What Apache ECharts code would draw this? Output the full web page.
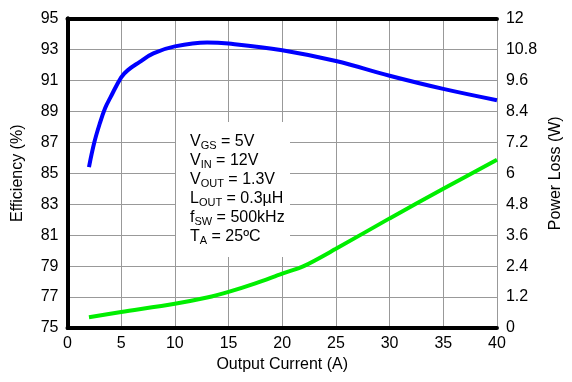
<!DOCTYPE html>
<html>
<head>
<meta charset="utf-8">
<script src="https://cdn.jsdelivr.net/npm/echarts@6/dist/echarts.min.js"></script>
<style>
html,body{margin:0;padding:0;background:#fff;}
#chart{width:572px;height:382px;}
</style>
</head>
<body>
<div id="chart"></div>
<script>
// Data
const effCurrent = [2, 2.5, 3, 3.5, 4, 5, 5.6, 6.7, 8, 10, 13, 15, 20, 25, 30, 35, 40];
const efficiency = [85.4, 87.0, 88.2, 89.2, 89.9, 91.2, 91.65, 92.18, 92.75, 93.2, 93.45, 93.38, 92.95, 92.25, 91.3, 90.45, 89.72];

const lossCurrent = [2, 5, 10, 13, 15, 17.5, 20, 22, 25, 30, 35, 40];
const powerLoss = [0.42, 0.62, 0.94, 1.18, 1.40, 1.73, 2.11, 2.40, 3.07, 4.25, 5.40, 6.52];

const xTicks = [0, 5, 10, 15, 20, 25, 30, 35, 40];
const effTicks = [75, 77, 79, 81, 83, 85, 87, 89, 91, 93, 95];
const lossTicks = [0, 1.2, 2.4, 3.6, 4.8, 6, 7.2, 8.4, 9.6, 10.8, 12];

const conditionLines = [
  ['V', 'GS', ' = 5V'],
  ['V', 'IN', ' = 12V'],
  ['V', 'OUT', ' = 1.3V'],
  ['L', 'OUT', ' = 0.3\u00b5H'],
  ['f', 'SW', ' = 500kHz'],
  ['T', 'A', ' = 25\u00baC']
];

const FONT = '"Liberation Sans", Arial, sans-serif';
const chart = echarts.init(document.getElementById('chart'), null, {renderer: 'canvas'});

function zip(xs, ys) { return xs.map((x, i) => [x, ys[i]]); }

const condText = conditionLines.map(l => l[0] + '{sub|' + l[1] + '}' + l[2]).join('\n');

const option = {
  animation: false,
  backgroundColor: '#fff',
  textStyle: {fontFamily: FONT},
  grid: {left: 67.5, right: 69.5, top: 18.5, bottom: 54},
  xAxis: [{
    type: 'value', min: xTicks[0], max: xTicks[xTicks.length - 1], interval: xTicks[1] - xTicks[0],
    name: 'Output Current (A)', nameLocation: 'middle', nameGap: 29,
    nameTextStyle: {fontSize: 16, color: '#000', fontFamily: FONT},
    axisLine: {show: true, lineStyle: {color: '#000', width: 4}},
    axisTick: {show: false},
    axisLabel: {fontSize: 16, color: '#000', margin: 8, fontFamily: FONT},
    splitLine: {show: true, lineStyle: {color: '#999', width: 1}}
  }, {
    type: 'value', position: 'top', min: 0, max: 40,
    axisLine: {show: true, lineStyle: {color: '#000', width: 4}},
    axisTick: {show: false}, axisLabel: {show: false}, splitLine: {show: false}
  }],
  yAxis: [{
    type: 'value', min: effTicks[0], max: effTicks[effTicks.length - 1], interval: effTicks[1] - effTicks[0],
    name: 'Efficiency (%)', nameLocation: 'middle', nameGap: 42, nameRotate: 90,
    nameTextStyle: {fontSize: 16, color: '#000', fontFamily: FONT},
    axisLine: {show: true, lineStyle: {color: '#000', width: 4}},
    axisTick: {show: false},
    axisLabel: {fontSize: 16, color: '#000', margin: 9, fontFamily: FONT},
    splitLine: {show: true, lineStyle: {color: '#999', width: 1}}
  }, {
    type: 'value', position: 'right', min: lossTicks[0], max: lossTicks[lossTicks.length - 1], interval: lossTicks[1] - lossTicks[0],
    name: 'Power Loss (W)', nameLocation: 'middle', nameGap: 47, nameRotate: 90,
    nameTextStyle: {fontSize: 16, color: '#000', fontFamily: FONT},
    axisLine: {show: true, lineStyle: {color: '#000', width: 4}},
    axisTick: {show: false},
    axisLabel: {fontSize: 16, color: '#000', margin: 9, fontFamily: FONT,
      formatter: v => String(+v.toFixed(1))},
    splitLine: {show: false}
  }],
  series: [{
    type: 'line', yAxisIndex: 0, data: zip(effCurrent, efficiency),
    smooth: 0.4, showSymbol: false, symbol: 'none',
    lineStyle: {color: '#0000ff', width: 4}, z: 3
  }, {
    type: 'line', yAxisIndex: 1, data: zip(lossCurrent, powerLoss),
    smooth: 0.3, showSymbol: false, symbol: 'none',
    lineStyle: {color: '#00ee00', width: 4}, z: 3
  }],
  graphic: [{
    type: 'rect', z: 1, silent: true,
    shape: {x: 176, y: 122, width: 114, height: 135},
    style: {fill: '#fff'}
  }, {
    type: 'text', z: 2, silent: true, x: 190, y: 132,
    style: {
      text: condText,
      fontSize: 16, fontFamily: FONT, lineHeight: 19, fill: '#000',
      textAlign: 'left', textVerticalAlign: 'top',
      rich: {
        sub: {fontSize: 11, fontFamily: FONT, lineHeight: 12, verticalAlign: 'bottom', fill: '#000'}
      }
    }
  }]
};
chart.setOption(option);
</script>
</body>
</html>
